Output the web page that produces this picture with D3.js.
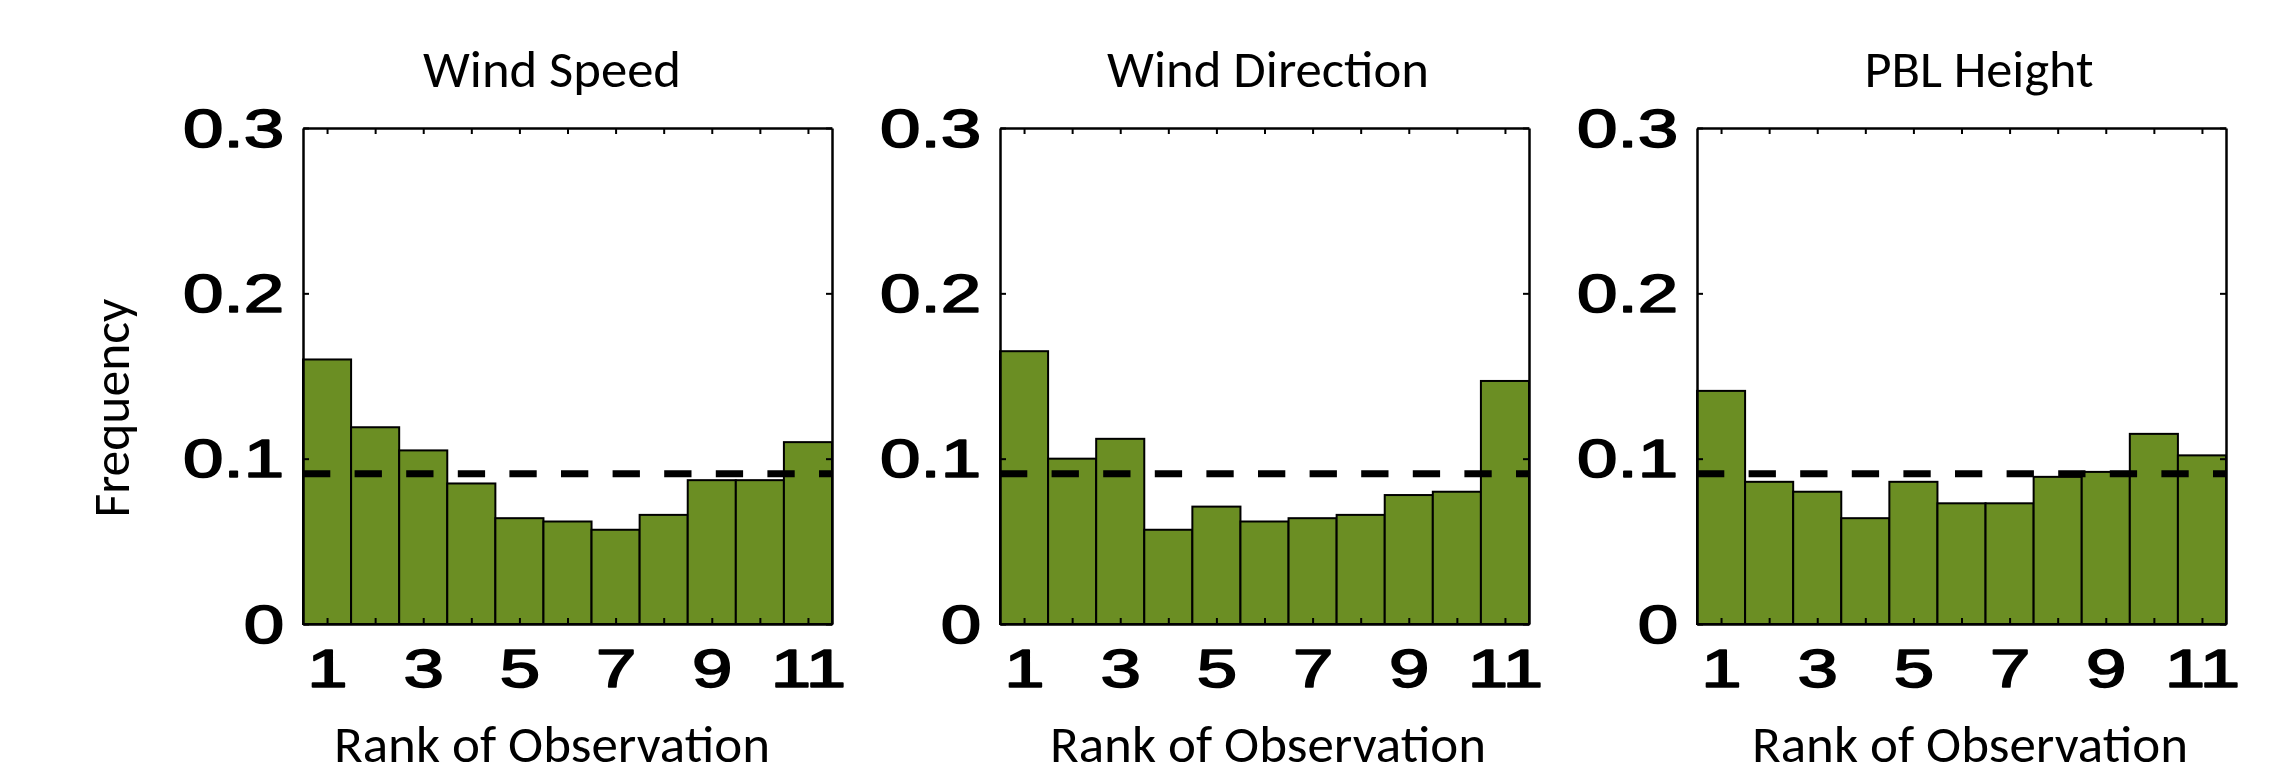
<!DOCTYPE html>
<html>
<head>
<meta charset="utf-8">
<script src="https://cdn.jsdelivr.net/npm/d3@7"></script>
<style>
  html, body { margin: 0; padding: 0; background: #fff; }
  svg { display: block; }
</style>
</head>
<body>
<svg id="chart" width="2286" height="766"></svg>
<script>
// Rank histograms of observations among ensemble members (11 possible ranks)
const ranks = [1, 2, 3, 4, 5, 6, 7, 8, 9, 10, 11];
const rankTickLabels = ["1", "", "3", "", "5", "", "7", "", "9", "", "11"];
const freqTicks = [0, 0.1, 0.2, 0.3];
const freqTickLabels = ["0", "0.1", "0.2", "0.3"];

const windSpeed     = [0.160, 0.119, 0.105, 0.085, 0.064, 0.062, 0.057, 0.066, 0.087, 0.087, 0.110];
const windDirection = [0.165, 0.100, 0.112, 0.057, 0.071, 0.062, 0.064, 0.066, 0.078, 0.080, 0.147];
const pblHeight     = [0.141, 0.086, 0.080, 0.064, 0.086, 0.073, 0.073, 0.089, 0.092, 0.115, 0.102];

const panelTitles = ["Wind Speed", "Wind Direction", "PBL Height"];
const panelSeries = [windSpeed, windDirection, pblHeight];

// Flat reference: a perfectly calibrated ensemble gives 1/11 per rank
const uniformFreq = 1 / ranks.length;

const svg = d3.select("#chart");

const plotW = 529, plotH = 496, plotTop = 128;
const panelLeft = [303, 1000, 1697];
const titleCenter = [552, 1268, 1979];
const titleWidth = [258, 322, 229];
const xlabelCenter = [552, 1268, 1970];

const tickStretch = 1.37;            // tick numerals are drawn wide
const barColor = "#6b8e23";
const textFont = "Calibri, Carlito, Lato, 'Open Sans', sans-serif";
const tickFont = "'Liberation Sans', Arial, Helvetica, sans-serif";

// medium-weight numerals: regular face thickened with a thin outline
function styleTickText(sel) {
  sel.attr("font-family", tickFont)
    .attr("font-size", 53)
    .attr("fill", "#000")
    .attr("stroke", "#000")
    .attr("stroke-width", 1.6)
    .attr("stroke-linejoin", "round");
}

panelSeries.forEach((values, i) => {
  const g = svg.append("g").attr("transform", `translate(${panelLeft[i]},${plotTop})`);

  const x = d3.scaleLinear().domain([0.5, 11.5]).range([0, plotW]);
  const y = d3.scaleLinear().domain([0, 0.3]).range([plotH, 0]);

  // bars
  g.selectAll("rect.bar")
    .data(ranks)
    .join("rect")
    .attr("class", "bar")
    .attr("x", r => x(r - 0.5))
    .attr("width", r => x(r + 0.5) - x(r - 0.5))
    .attr("y", (r, k) => y(values[k]))
    .attr("height", (r, k) => y(0) - y(values[k]))
    .attr("fill", barColor)
    .attr("stroke", "#000")
    .attr("stroke-width", 2);

  // expected frequency line
  g.append("line")
    .attr("x1", x(0.5)).attr("x2", x(11.5))
    .attr("y1", y(uniformFreq)).attr("y2", y(uniformFreq))
    .attr("stroke", "#000")
    .attr("stroke-width", 7)
    .attr("stroke-dasharray", "27.3 24.3");

  // left axis with labels
  const yAxis = g.append("g")
    .call(d3.axisLeft(y).tickValues(freqTicks)
      .tickFormat((d, k) => freqTickLabels[k])
      .tickSizeInner(-6).tickSizeOuter(0).tickPadding(19));
  yAxis.selectAll("text")
    .call(styleTickText)
    .attr("x", -19 / tickStretch)
    .attr("dy", "0.34em")
    .attr("transform", `scale(${tickStretch},1)`);

  // bottom axis with labels
  const xAxis = g.append("g")
    .attr("transform", `translate(0,${plotH})`)
    .call(d3.axisBottom(x).tickValues(ranks)
      .tickFormat((d, k) => rankTickLabels[k])
      .tickSizeInner(-6).tickSizeOuter(0).tickPadding(25));
  xAxis.selectAll("text")
    .call(styleTickText)
    .attr("transform", `scale(${tickStretch},1)`);

  // top and right axes: ticks only, closing the box
  g.append("g")
    .call(d3.axisTop(x).tickValues(ranks).tickFormat("")
      .tickSizeInner(-6).tickSizeOuter(0));
  g.append("g")
    .attr("transform", `translate(${plotW},0)`)
    .call(d3.axisRight(y).tickValues(freqTicks).tickFormat("")
      .tickSizeInner(-6).tickSizeOuter(0));

  svg.selectAll(".domain").attr("stroke", "#000").attr("stroke-width", 2.5);
  svg.selectAll(".tick line").attr("stroke", "#000").attr("stroke-width", 2);

  // panel title
  svg.append("text")
    .attr("x", titleCenter[i]).attr("y", 87)
    .attr("text-anchor", "middle")
    .attr("font-family", textFont)
    .attr("font-size", 52)
    .attr("textLength", titleWidth[i])
    .attr("lengthAdjust", "spacingAndGlyphs")
    .text(panelTitles[i]);

  // x axis title
  svg.append("text")
    .attr("x", xlabelCenter[i]).attr("y", 762)
    .attr("text-anchor", "middle")
    .attr("font-family", textFont)
    .attr("font-size", 52)
    .attr("textLength", 436)
    .attr("lengthAdjust", "spacingAndGlyphs")
    .text("Rank of Observation");
});

// shared y axis title
svg.append("text")
  .attr("transform", "translate(129,408) rotate(-90)")
  .attr("text-anchor", "middle")
  .attr("font-family", textFont)
  .attr("font-size", 52)
  .attr("textLength", 219)
  .attr("lengthAdjust", "spacingAndGlyphs")
  .text("Frequency");
</script>
</body>
</html>
